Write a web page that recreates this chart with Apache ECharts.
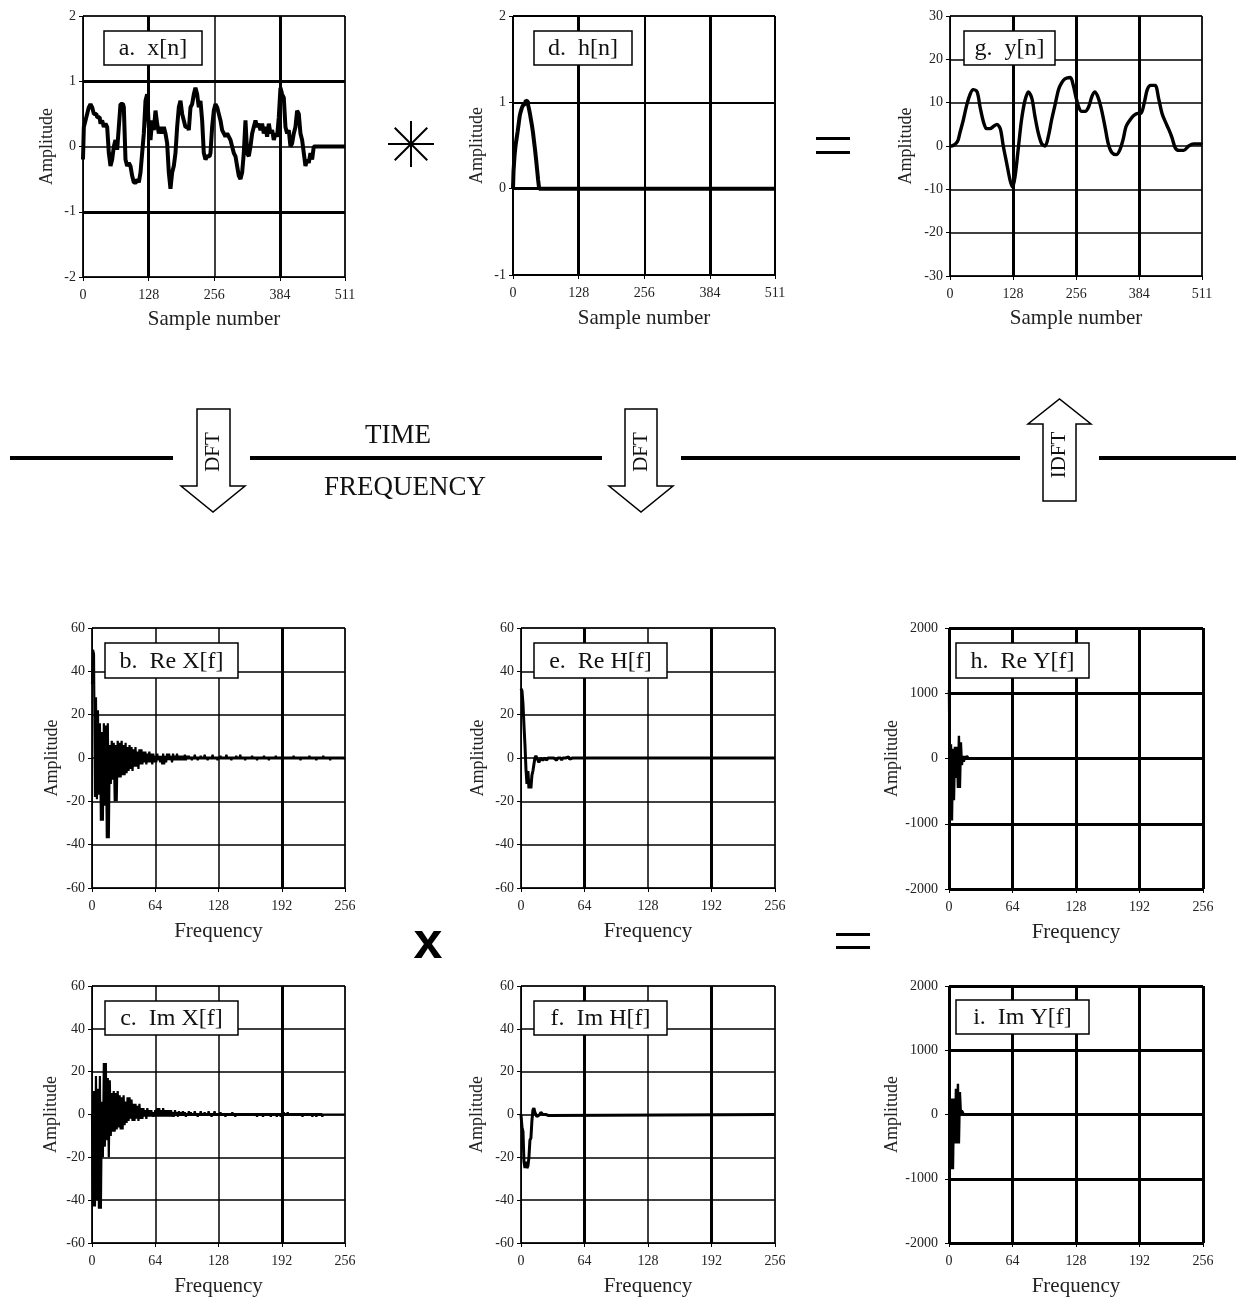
<!DOCTYPE html>
<html><head><meta charset="utf-8">
<script src="https://cdn.jsdelivr.net/npm/echarts@6/dist/echarts.min.js"></script>
<style>html,body{margin:0;padding:0;background:#fff}#c{width:1239px;height:1298px}</style>
</head><body><div id="c"></div>
<script>
// ---------- tick labels ----------
const sampleTicks = [0, 128, 256, 384, 511];
const freqTicks = [0, 64, 128, 192, 256];
const ampTicksX = [-2, -1, 0, 1, 2];
const ampTicksH = [-1, 0, 1, 2];
const ampTicksY = [-30, -20, -10, 0, 10, 20, 30];
const ampTicksF = [-60, -40, -20, 0, 20, 40, 60];
const ampTicksYF = [-2000, -1000, 0, 1000, 2000];

// ---------- time-domain data ----------
// x[n]: readings every 3.25 samples from n=0 to n≈452, then zero padding
const XN_STEP = 3.25;
const xnValues = [
 -0.2,0.3,0.4,0.5,0.6,0.65,0.6,0.5,0.5,0.45,0.45,0.35,0.4,0.3,0.35,0.3,-0.1,-0.3,-0.2,0.0,
 0.1,-0.05,0.3,0.65,0.65,0.6,-0.2,-0.3,-0.25,-0.3,-0.45,-0.55,-0.55,-0.5,-0.55,-0.4,-0.1,0.2,0.7,0.8,
 0.3,0.1,0.4,0.25,0.55,0.35,0.2,0.3,0.2,0.3,0.2,0.05,-0.4,-0.65,-0.4,-0.3,-0.1,0.3,0.6,0.7,
 0.5,0.4,0.3,0.3,0.25,0.6,0.65,0.8,0.9,0.8,0.6,0.7,0.4,-0.1,-0.2,-0.15,-0.15,-0.1,0.3,0.55,
 0.65,0.6,0.5,0.4,0.25,0.2,0.15,0.2,0.15,0.1,0.0,-0.1,-0.15,-0.3,-0.45,-0.5,-0.4,-0.1,0.4,-0.1,
 -0.15,0.0,0.2,0.3,0.4,0.3,0.35,0.25,0.35,0.2,0.3,0.15,0.35,0.2,0.25,0.1,0.2,0.15,0.45,0.9,
 0.8,0.75,0.3,0.2,0.25,0.0,0.05,0.2,0.3,0.55,0.5,0.2,0.1,-0.1,-0.3,-0.2,-0.25,-0.1,-0.2,0.0
];
// h[n]: readings every 2 samples from n=0 to n=52
const HN_STEP = 2;
const hnValues = [0,0.2,0.38,0.5,0.58,0.66,0.75,0.84,0.89,0.93,0.96,0.98,1.0,1.02,1.01,0.98,0.93,0.87,0.8,0.73,0.65,0.55,0.45,0.34,0.22,0.1,0];
// y[n]
const ynSamples = [0,3,15,20,27,34,41,47,55,61,68,74,81,88,95,102,108,115,122,127,132,139,145,152,159,166,172,179,186,193,200,206,213,220,226,233,244,250,256,261,267,274,281,288,294,301,308,315,321,328,337,344,351,357,365,372,380,387,394,400,407,416,423,430,437,443,450,457,464,474,484,494,508,511];
const ynValues = [0,0,1,3,6,9.5,12,13,12.5,9,5.5,4,4,4.5,5,4,0,-4,-8,-9.5,-7,0,6,10.5,12.5,11,7,3,0.5,0,2.5,6,9.5,13,14.5,15.5,15.8,14,11,9,8,8,9,11.5,12.5,11,8,4,0.5,-1.5,-2,-1,1.5,4.5,6,7,7.5,7.5,10,13,14,14,11,7.5,5.5,4,2,-0.5,-1,-1,0,0.5,0.5,0.3];

// ---------- frequency-domain data (one value per frequency from f=0) ----------
const reX = [
 34,50,48,-18,28,-19,22,-17,16,-29, 12,-29,16,-22,15,-37,16,-37,6,-12,
 8,-10,7,-20,6,-20,8,-9,7,-9, 8,-8,6,-8,7,-7,5,-6,6,-5,
 5,-6,4,-4,5,-4,3,-5,4,-3, 4,-3,3,-2,3,-3,2,-2,3,-2,
 2,-3,2,-2,1,-2,2,-1,1,-2, 1,-3,2,-3,1,-2,2,-1,2,-1,
 1,-2,2,-1,1,-1,2,-1,1,-1, 1,-1,1,-1,1.5,-1,1,-0.5,1,-0.5,
 0.5,-1,0.5,-0.5,1.5,-0.5,0.5,-1,0.5,-0.5, 1,-0.5,0.5,-0.5,1.5,-0.5,0.5,-1,0.5,-0.5,
 0.5,-0.5,1.5,-0.5,0.5,-0.5,0.5,-1,0.5,-0.5, 1,-0.5,0.5,-0.5,0.5,-0.5,1.5,-0.5,0.5,-0.5,
 0.5,-1,0.5,-0.5,0.5,-0.5,1,-0.5,0.5,-0.5, 1.5,-0.5,0.5,-0.5,0.5,-1,0.5,-0.5,0.5,-0.5,
 0.5,-0.5,1,-0.5,0.5,-0.5,0.5,-1,0.5,-0.5, 0.5,-0.5,0.5,-0.5,1,-0.5,0.5,-0.5,0.5,-1,
 0.5,-0.5,0.5,-0.5,0.5,-0.5,1,-0.5,0.5,-0.5, 0.5,-0.5,0.5,-1,0.5,-0.5,0.5,-0.5,0.5,-0.5,
 0.5,-0.5,0.5,-0.5,1,-0.5,0.5,-0.5,0.5,-0.5, 0.5,-1,0.5,-0.5,0.5,-0.5,0.5,-0.5,0.5,-0.5,
 1,-0.5,0.5,-0.5,0.5,-0.5,0.5,-1,0.5,-0.5, 0.5,-0.5,0.5,-0.5,1,-0.5,0.5,-0.5,0.5,-0.5,
 0.5,-1,0.5,-0.5,0.5,-0.5,0.5,-0.5,0.5,-0.5, 0.5,-0.5,0.5,-0.5,0.5,-0.5,0
];
const imX = [
 0,-43,11,-43,18,-40,12,-44,18,-44, 6,-20,24,-15,24,-12,17,-20,16,-10,
 10,-8,11,-8,10,-7,11,-6,9,-7, 8,-7,9,-5,6,-4,8,-3,8,-2,
 7,-3,5,-3,5,-2,4,-3,5,-2, 3,-2,3,-1,2,-2,3,-1,2,-1,
 2,-1,1,-1,2,-1,3,-1,3,-1, 2,-1,3,-1,2,-1,2,-1,2,-1,
 2,-1,1,-1,2,-0.5,1,-1,1.5,-0.5, 1,-0.5,1.5,-0.5,1,-1,0.5,-0.5,1.5,-0.5,
 1,-0.5,0.5,-0.5,1.5,-0.5,0.5,-1,0.5,-0.5, 1.5,-0.5,0.5,-0.5,1,-0.5,0.5,-0.5,1.5,-0.5,
 0.5,-1,0.5,-0.5,1.5,-0.5,0.5,-0.5,0.5,-0.5, 1,-0.5,0.5,-0.5,0.5,-1,0.5,-0.5,0.5,-0.5,
 0.5,-0.5,1,-0.5,0.5,-1,0.5,-0.5,0.5,-0.5, 0.5,-0.5,0.5,-0.5,0.5,-0.5,0.5,-0.5,0.5,-0.5,
 0.5,-0.5,0.5,-0.5,0.5,-0.5,0.5,-1,0.5,-0.5, 0.5,-0.5,0.5,-1,0.5,-0.5,0.5,-0.5,0.5,-0.5,
 0.5,-1,0.5,-0.5,0.5,-0.5,0.5,-1,0.5,-0.5, 0.5,-1,0.5,-0.5,1,-0.5,0.5,-0.5,1,-0.5,
 0.5,-0.5,0.5,-0.5,0.5,-0.5,0.5,-0.5,0.5,-0.5, 0.5,-0.5,0.5,-1,0.5,-0.5,0.5,-0.5,0.5,-0.5,
 0.5,-0.5,0.5,-1,0.5,-0.5,0.5,-1,0.5,-0.5, 0.5,-0.5,0.5,-1,0
];
const reH = [
 32,31,25,15,6,-5,-12,-6,-14,-10, -14,-8,-6,-3,0,1,0,-1,-2,-1,
 0,0.5,-1,-0.5,0,0.5,-1,0,0.5,-0.5, 0,0.5,-0.5,0,0.5,-0.5,-1,0,0.5,-0.5,
 0,-1,0,0.5,-0.5,0,-0.5,0,0.5,-0.5, 0,-1,0,0.5,0
];
const imH = [
 0,-6,-8,-22,-25,-22,-25,-24,-20,-12, -11,-3,2,3,1,0,-1,-1.5,-1,0,
 1,1,0,-0.5,-0.5,0,0,0,-0.5,-0.5, 0
];
const reY = [1050,-950,220,-950,150,-640,180,-300,180,-450, 350,-450,250,-100,40,-50,40,0,40,20, 0];
const imY = [0,100,-850,250,-850,250,-450,400,-450,480, -450,350,0,60,30,0];

// ---------- helpers ----------
const SERIF = '"Liberation Serif", "Times New Roman", serif';
const stepPairs = (vals, step) => vals.map((v, i) => [i * step, v]);
const freqPairs = (vals) => vals.map((v, f) => [f, v]);
const padTo = (pairs, end) => (pairs[pairs.length - 1][0] < end ? pairs.concat([[end, 0]]) : pairs);

const panels = [
 {label:'a.  x[n]', grid:{left:83,top:16,width:262,height:261}, xt:sampleTicks, yt:ampTicksX, xName:'Sample number',
  data: padTo(stepPairs(xnValues, XN_STEP), 511), lw:4, step:'middle', yGap:27, xGap:32, yMargin:7, box:[104,31,98,34], gw:1.5, thickX:[128,384], thickY:[1,-1]},
 {label:'d.  h[n]', grid:{left:513,top:16,width:262,height:259}, xt:sampleTicks, yt:ampTicksH, xName:'Sample number',
  data: padTo(stepPairs(hnValues, HN_STEP), 511), lw:4, step:'middle', yGap:27, xGap:33, yMargin:7, box:[534,31,98,34], gw:2, thickX:[128,384], thickY:[0]},
 {label:'g.  y[n]', grid:{left:950,top:16,width:252,height:260}, xt:sampleTicks, yt:ampTicksY, xName:'Sample number',
  data: ynSamples.map((s, i) => [s, ynValues[i]]), lw:3.4, smooth:0.3, yGap:35, xGap:32, yMargin:7, box:[964,31,91,34], gw:1.5, thickX:[128,256,384], thickY:[]},
 {label:'b.  Re X[f]', grid:{left:92,top:628,width:253,height:260}, xt:freqTicks, yt:ampTicksF, xName:'Frequency',
  data: padTo(freqPairs(reX), 256), lw:2.2, yGap:31, xGap:33, yMargin:7, box:[105,643,133,35], gw:1.5, thickX:[192], thickY:[]},
 {label:'c.  Im X[f]', grid:{left:92,top:986,width:253,height:259}, xt:freqTicks, yt:ampTicksF, xName:'Frequency',
  data: padTo(freqPairs(imX), 256), lw:2.2, yGap:32, xGap:33, yMargin:7, box:[105,1001,133,34], gw:1.5, thickX:[192], thickY:[]},
 {label:'e.  Re H[f]', grid:{left:521,top:628,width:254,height:260}, xt:freqTicks, yt:ampTicksF, xName:'Frequency',
  data: padTo(freqPairs(reH), 256), lw:3, yGap:34, xGap:33, yMargin:7, box:[534,643,133,35], gw:1.5, thickX:[64,192], thickY:[]},
 {label:'f.  Im H[f]', grid:{left:521,top:986,width:254,height:259}, xt:freqTicks, yt:ampTicksF, xName:'Frequency',
  data: padTo(freqPairs(imH), 256), lw:3, yGap:35, xGap:33, yMargin:7, box:[534,1001,133,34], gw:1.5, thickX:[64,192], thickY:[]},
 {label:'h.  Re Y[f]', grid:{left:949,top:628,width:254,height:261}, xt:freqTicks, yt:ampTicksYF, xName:'Frequency',
  data: padTo(freqPairs(reY), 256), lw:2.4, yGap:48, xGap:33, yMargin:11, box:[956,643,133,35], gw:3, thickX:[], thickY:[]},
 {label:'i.  Im Y[f]', grid:{left:949,top:986,width:254,height:261}, xt:freqTicks, yt:ampTicksYF, xName:'Frequency',
  data: padTo(freqPairs(imY), 256), lw:2.4, yGap:47, xGap:33, yMargin:11, box:[956,1000,133,34], gw:3, thickX:[], thickY:[]}
];

const plain = v => String(v);
const xLabelStyle = {color:'#222', fontSize:14, fontFamily:SERIF, margin:11, formatter:plain};
const nameStyle = (s) => ({color:'#222', fontSize:s, fontFamily:SERIF});

const grids = [], xAxes = [], yAxes = [], series = [];
panels.forEach((p, i) => {
  grids.push(Object.assign({show:true, borderColor:'#000', borderWidth:1, backgroundColor:'transparent', containLabel:false}, p.grid));
  xAxes.push({type:'value', gridIndex:i, min:p.xt[0], max:p.xt[p.xt.length-1], interval:p.xt[1]-p.xt[0],
    axisLine:{show:true, onZero:false, lineStyle:{color:'#000', width:1}},
    axisTick:{show:true, inside:false, length:4, lineStyle:{color:'#000'}},
    splitLine:{show:true, lineStyle:{color:'#000', width:p.gw}},
    axisLabel:xLabelStyle, name:p.xName, nameLocation:'middle', nameGap:p.xGap, nameTextStyle:nameStyle(21)});
  yAxes.push({type:'value', gridIndex:i, min:p.yt[0], max:p.yt[p.yt.length-1], interval:p.yt[1]-p.yt[0],
    axisLine:{show:true, onZero:false, lineStyle:{color:'#000', width:1}},
    axisTick:{show:true, inside:false, length:4, lineStyle:{color:'#000'}},
    splitLine:{show:true, lineStyle:{color:'#000', width:p.gw}},
    axisLabel:{color:'#222', fontSize:14, fontFamily:SERIF, margin:p.yMargin, formatter:plain},
    name:'Amplitude', nameLocation:'middle', nameRotate:90, nameGap:p.yGap, nameTextStyle:nameStyle(18)});
  const ml = p.thickX.map(v => ({xAxis:v})).concat(p.thickY.map(v => ({yAxis:v})));
  series.push({type:'line', xAxisIndex:i, yAxisIndex:i, data:p.data, showSymbol:false, symbol:'none',
    smooth: p.smooth || false, step: p.step || false, silent:true,
    lineStyle:{color:'#000', width:p.lw, join:'bevel'},
    markLine: ml.length ? {silent:true, symbol:['none','none'], label:{show:false},
      lineStyle:{color:'#000', width:3, type:'solid'}, data:ml} : undefined});
});

// ---------- decorations ----------
const G = [];
panels.forEach(p => {
  const [bx, by, bw, bh] = p.box;
  G.push({type:'rect', shape:{x:bx, y:by, width:bw, height:bh}, style:{fill:'#fff', stroke:'#000', lineWidth:1.5}, z:100});
  G.push({type:'text', x:bx + bw/2, y:by + bh/2 + 1, z:101,
    style:{text:p.label, fontSize:24, fontFamily:SERIF, fill:'#111', align:'center', verticalAlign:'middle'}});
});
[[10,173],[250,602],[681,1020],[1099,1236]].forEach(([a, b]) =>
  G.push({type:'rect', shape:{x:a, y:456, width:b - a, height:4}, style:{fill:'#000'}}));
function arrow(sl, sr, t, hb, hl, hr, tx, ty) {
  return {type:'polygon', shape:{points:[[sl,t],[sr,t],[sr,hb],[hr,hb],[tx,ty],[hl,hb],[sl,hb]]},
    style:{fill:'#fff', stroke:'#000', lineWidth:1.5}, z:50};
}
G.push(arrow(197, 230, 409, 486, 181, 245, 213, 512));
G.push(arrow(625, 657, 409, 486, 609, 673, 641, 512));
G.push(arrow(1043, 1076, 501, 424, 1028, 1091, 1059.5, 399));
const rotText = (t, x, y) => ({type:'text', x:x, y:y, rotation:Math.PI/2, z:60,
  style:{text:t, fontSize:21, fontFamily:SERIF, fill:'#111', align:'center', verticalAlign:'middle'}});
G.push(rotText('DFT', 213.5, 452));
G.push(rotText('DFT', 641, 452));
G.push(rotText('IDFT', 1059.5, 455));
G.push({type:'text', x:398, y:436, style:{text:'TIME', fontSize:27, fontFamily:SERIF, fill:'#111', align:'center', verticalAlign:'middle'}});
G.push({type:'text', x:405, y:488, style:{text:'FREQUENCY', fontSize:27, fontFamily:SERIF, fill:'#111', align:'center', verticalAlign:'middle'}});
// convolution asterisk
[0, Math.PI/4, Math.PI/2, 3*Math.PI/4].forEach(a => {
  const cx = 411, cy = 144, r = 23;
  G.push({type:'line', shape:{x1:cx - r*Math.cos(a), y1:cy - r*Math.sin(a), x2:cx + r*Math.cos(a), y2:cy + r*Math.sin(a)},
    style:{stroke:'#000', lineWidth:2}});
});
// equals signs
[[816,137],[816,151],[836,933],[836,946]].forEach(([x, y]) =>
  G.push({type:'rect', shape:{x:x, y:y, width:34, height:3}, style:{fill:'#000'}}));
// multiplication x
G.push({type:'text', x:428, y:944, style:{text:'x', fontSize:52, fontWeight:'bold', fontFamily:'"Liberation Sans", Arial, sans-serif', fill:'#000', align:'center', verticalAlign:'middle'}});

const chart = echarts.init(document.getElementById('c'), null, {renderer:'canvas'});
chart.setOption({animation:false, backgroundColor:'#fff', grid:grids, xAxis:xAxes, yAxis:yAxes, series:series, graphic:G});
</script></body></html>
